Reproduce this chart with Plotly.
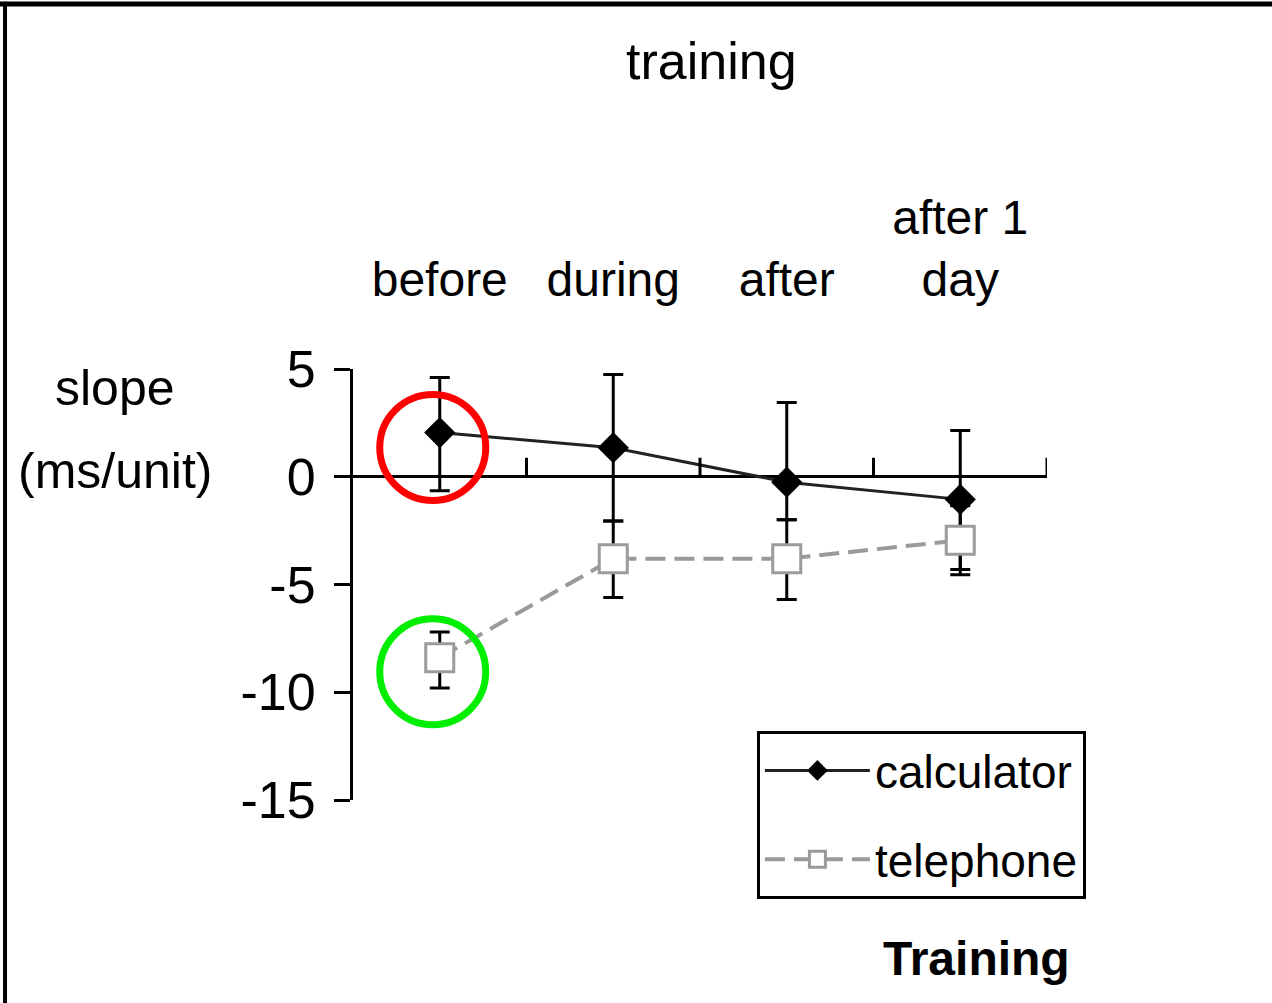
import plotly.graph_objects as go

categories = ["before", "during", "after", "after 1<br>day"]
calculator = [2.05, 1.35, -0.25, -1.05]
calc_err_plus = [2.55, 3.4, 3.7, 3.2]
calc_err_minus = [2.7, 3.4, 1.75, 3.25]
telephone = [-8.4, -3.8, -3.8, -2.95]
tel_err_plus = [1.2, 1.75, 1.8, 1.6]
tel_err_minus = [1.4, 1.8, 1.9, 1.6]
ytick_vals = [5, 0, -5, -10, -15]
ytick_text = ["5", "0", "-5", "-10", "-15"]

FONT = "Liberation Sans Narrow, Arial Narrow, Liberation Sans, Arial, sans-serif"

fig = go.Figure()
fig.add_trace(go.Scatter(
    x=categories, y=calculator, name="calculator", mode="lines+markers",
    legendgroup="calc",
    line=dict(color="#222222", width=3),
    marker=dict(symbol="diamond", size=24, color="black", line=dict(width=0)),
    error_y=dict(type="data", symmetric=False, array=calc_err_plus,
                 arrayminus=calc_err_minus, color="black", thickness=3, width=10),
))
fig.add_trace(go.Scatter(
    x=categories, y=telephone, name="telephone", mode="lines+markers",
    legendgroup="tel",
    line=dict(color="#9a9a9a", width=4, dash="20px,9px"),
    marker=dict(symbol="square", size=28, color="white",
                line=dict(color="#9a9a9a", width=3)),
    error_y=dict(type="data", symmetric=False, array=tel_err_plus,
                 arrayminus=tel_err_minus, color="black", thickness=3, width=10),
))

shapes = []
# small upward ticks on the zero line at category boundaries
for b in [0.5, 1.5, 2.5, 3.5]:
    shapes.append(dict(type="line", xref="x", yref="y", x0=b, x1=b,
                       ysizemode="pixel", yanchor=0, y0=0, y1=19,
                       line=dict(color="black", width=3)))
# highlight circles
shapes.append(dict(type="circle", xref="x", yref="y",
                   xsizemode="pixel", ysizemode="pixel",
                   xanchor=0, yanchor=calculator[0],
                   x0=-60, x1=46, y0=-68, y1=38,
                   line=dict(color="#ff0000", width=7)))
shapes.append(dict(type="circle", xref="x", yref="y",
                   xsizemode="pixel", ysizemode="pixel",
                   xanchor=0, yanchor=telephone[0],
                   x0=-60, x1=46, y0=-67, y1=39,
                   line=dict(color="#00ee00", width=7)))
# outer frame (top and left)
shapes.append(dict(type="line", xref="paper", yref="paper",
                   x0=-0.52, x1=1.35, y0=1.8469, y1=1.8469,
                   line=dict(color="black", width=5)))
shapes.append(dict(type="line", xref="paper", yref="paper",
                   x0=-0.5014, x1=-0.5014, y0=-0.55, y1=1.852,
                   line=dict(color="black", width=4)))

fig.update_layout(
    width=1272, height=1003,
    margin=dict(l=353, r=225, t=369, b=203),
    paper_bgcolor="white", plot_bgcolor="white",
    font=dict(family=FONT, color="black"),
    showlegend=True,
    legend=dict(x=0.582, y=0.160, xanchor="left", yanchor="top",
                bgcolor="white", bordercolor="black", borderwidth=3,
                font=dict(size=46, family=FONT), itemwidth=105,
                tracegroupgap=26),
    shapes=shapes,
    xaxis=dict(type="category", range=[-0.5, 3.5], side="top",
               showline=False, showgrid=False, zeroline=False, ticks="",
               tickfont=dict(size=48, family=FONT), ticklabelstandoff=62),
    yaxis=dict(range=[-15, 5], showline=True, linecolor="black", linewidth=3,
               showgrid=False, zeroline=True, zerolinecolor="black",
               zerolinewidth=3, ticks="outside", ticklen=16, tickwidth=3,
               tickcolor="black", tickvals=ytick_vals, ticktext=ytick_text,
               tickfont=dict(size=52, family=FONT), ticklabelstandoff=8),
    annotations=[
        dict(text="training", xref="paper", yref="paper", x=0.517, y=1.715,
             xanchor="center", yanchor="middle", showarrow=False,
             font=dict(size=52, family=FONT)),
        dict(text="slope", xref="paper", yref="paper",
             x=-0.343, y=0.955, xanchor="center", yanchor="middle",
             showarrow=False, font=dict(size=50, family=FONT)),
        dict(text="(ms/unit)", xref="paper", yref="paper",
             x=-0.343, y=0.7645, xanchor="center", yanchor="middle",
             showarrow=False, font=dict(size=50, family=FONT)),
        dict(text="<b>Training</b>", xref="paper", yref="paper",
             x=0.899, y=-0.367, xanchor="center", yanchor="middle",
             showarrow=False,
             font=dict(size=48, family="Liberation Sans, Arial, sans-serif")),
    ],
)

fig.write_html("out.html",
               config={"displayModeBar": False},
               post_script="document.body.style.margin='0';")
